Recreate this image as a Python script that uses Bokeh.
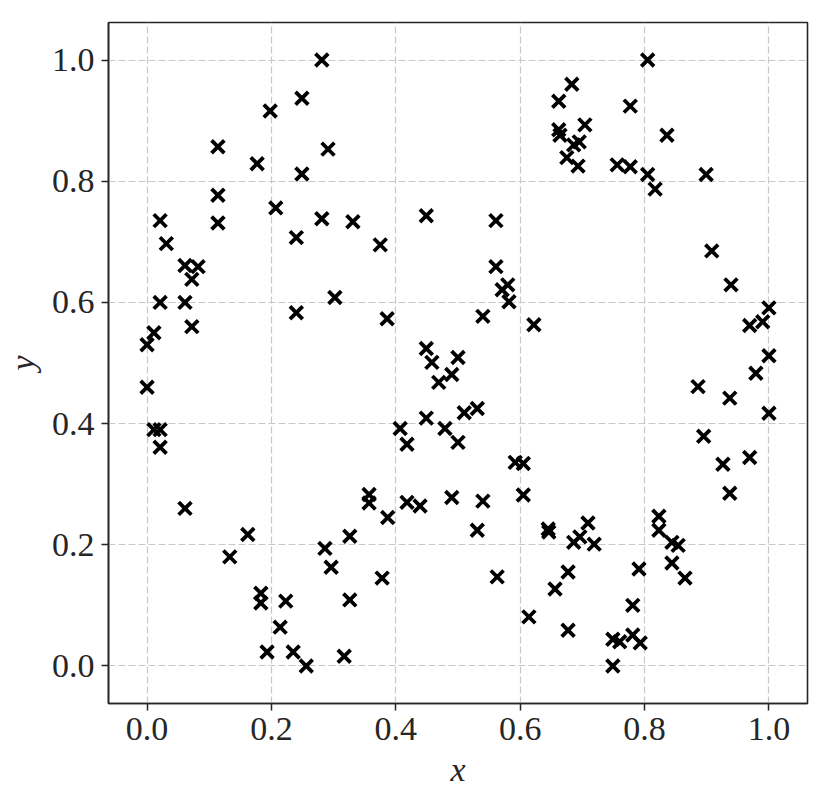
from bokeh.plotting import figure
from bokeh.models import FixedTicker
from bokeh.embed import file_html
from bokeh.resources import INLINE

x_vals = [0.281, 0.249, 0.198, 0.114, 0.291, 0.177, 0.249, 0.114, 0.207, 0.021,
          0.114, 0.281, 0.240, 0.031, 0.061, 0.082, 0.072, 0.021, 0.061, 0.072,
          0.011, 0.000, 0.240, 0.302, 0.000, 0.011, 0.021, 0.021,
          0.331, 0.375, 0.449, 0.561, 0.683, 0.662, 0.662, 0.664, 0.686, 0.695,
          0.675, 0.693, 0.704,
          0.805, 0.777, 0.836, 0.756, 0.777, 0.805, 0.817, 0.899, 0.908,
          0.561, 0.580, 0.571, 0.582, 0.540, 0.622, 0.386, 0.449, 0.458, 0.500,
          0.490, 0.469, 0.407, 0.449, 0.479, 0.418, 0.500, 0.510, 0.531, 0.592,
          0.605,
          0.939, 1.000, 0.969, 0.990, 1.000, 0.979, 0.886, 0.937, 1.000, 0.895,
          0.969, 0.926,
          0.937, 0.709, 0.696, 0.686, 0.719, 0.823, 0.823, 0.844, 0.854, 0.844,
          0.865, 0.791, 0.781, 0.749, 0.760, 0.781, 0.793, 0.749,
          0.357, 0.357, 0.387, 0.326, 0.418, 0.439, 0.490, 0.540, 0.531, 0.605,
          0.645, 0.646, 0.378, 0.326, 0.563, 0.677, 0.656, 0.614, 0.677, 0.317,
          0.061, 0.162, 0.133, 0.286, 0.296, 0.183, 0.183, 0.223, 0.214, 0.193,
          0.235, 0.256]

y_vals = [1.000, 0.937, 0.916, 0.857, 0.853, 0.829, 0.812, 0.777, 0.756, 0.735,
          0.731, 0.738, 0.707, 0.697, 0.661, 0.659, 0.638, 0.600, 0.600, 0.560,
          0.550, 0.530, 0.583, 0.608, 0.460, 0.390, 0.390, 0.361,
          0.733, 0.695, 0.743, 0.735, 0.960, 0.932, 0.885, 0.876, 0.860, 0.865,
          0.839, 0.825, 0.893,
          1.000, 0.924, 0.876, 0.827, 0.824, 0.811, 0.787, 0.811, 0.685,
          0.659, 0.629, 0.621, 0.601, 0.577, 0.563, 0.573, 0.524, 0.501, 0.509,
          0.481, 0.468, 0.392, 0.409, 0.392, 0.366, 0.369, 0.418, 0.425, 0.336,
          0.334,
          0.629, 0.591, 0.562, 0.568, 0.512, 0.483, 0.461, 0.442, 0.417, 0.379,
          0.344, 0.333,
          0.285, 0.236, 0.213, 0.204, 0.201, 0.247, 0.224, 0.204, 0.199, 0.170,
          0.145, 0.160, 0.100, 0.044, 0.040, 0.051, 0.038, 0.000,
          0.283, 0.269, 0.245, 0.214, 0.270, 0.264, 0.278, 0.272, 0.224, 0.282,
          0.226, 0.221, 0.145, 0.109, 0.147, 0.155, 0.127, 0.081, 0.059, 0.016,
          0.260, 0.217, 0.180, 0.194, 0.163, 0.120, 0.104, 0.107, 0.064, 0.023,
          0.023, 0.000]

ticks = [0.0, 0.2, 0.4, 0.6, 0.8, 1.0]
tick_labels = {0.0: "0.0", 0.2: "0.2", 0.4: "0.4", 0.6: "0.6", 0.8: "0.8", 1.0: "1.0"}

FONT = "Liberation Serif"

p = figure(frame_width=699, frame_height=681,
           x_range=(-0.062, 1.062), y_range=(-0.062, 1.062),
           output_backend="svg", toolbar_location=None,
           min_border_left=108, min_border_top=22,
           min_border_right=20, min_border_bottom=88,
           background_fill_color="white", border_fill_color="white")

p.scatter(x_vals, y_vals, marker="x", size=18, line_width=3.8, line_color="black")

p.outline_line_color = "#262626"
p.outline_line_width = 1.6

for ax in (p.xaxis[0], p.yaxis[0]):
    ax.ticker = FixedTicker(ticks=ticks)
    ax.major_label_overrides = tick_labels
    ax.major_label_text_font = FONT
    ax.major_label_text_font_size = "34px"
    ax.major_label_text_color = "#262626"
    ax.major_label_standoff = 7
    ax.major_tick_out = 7
    ax.major_tick_in = 0
    ax.major_tick_line_color = "#262626"
    ax.major_tick_line_width = 1.5
    ax.minor_tick_line_color = None
    ax.axis_line_color = "#262626"
    ax.axis_line_width = 1.6
    ax.axis_label_text_font = FONT
    ax.axis_label_text_font_style = "italic"
    ax.axis_label_text_font_size = "34px"
    ax.axis_label_text_color = "#262626"
    ax.axis_label_standoff = 8

p.xaxis.axis_label = "x"
p.yaxis.axis_label = "y"
p.yaxis.major_label_orientation = "horizontal"

p.grid.ticker = FixedTicker(ticks=ticks)
p.grid.grid_line_color = "#c8c8c8"
p.grid.grid_line_width = 1.2
p.grid.grid_line_dash = "7 3"

open("out.html", "w").write(file_html(p, INLINE))
